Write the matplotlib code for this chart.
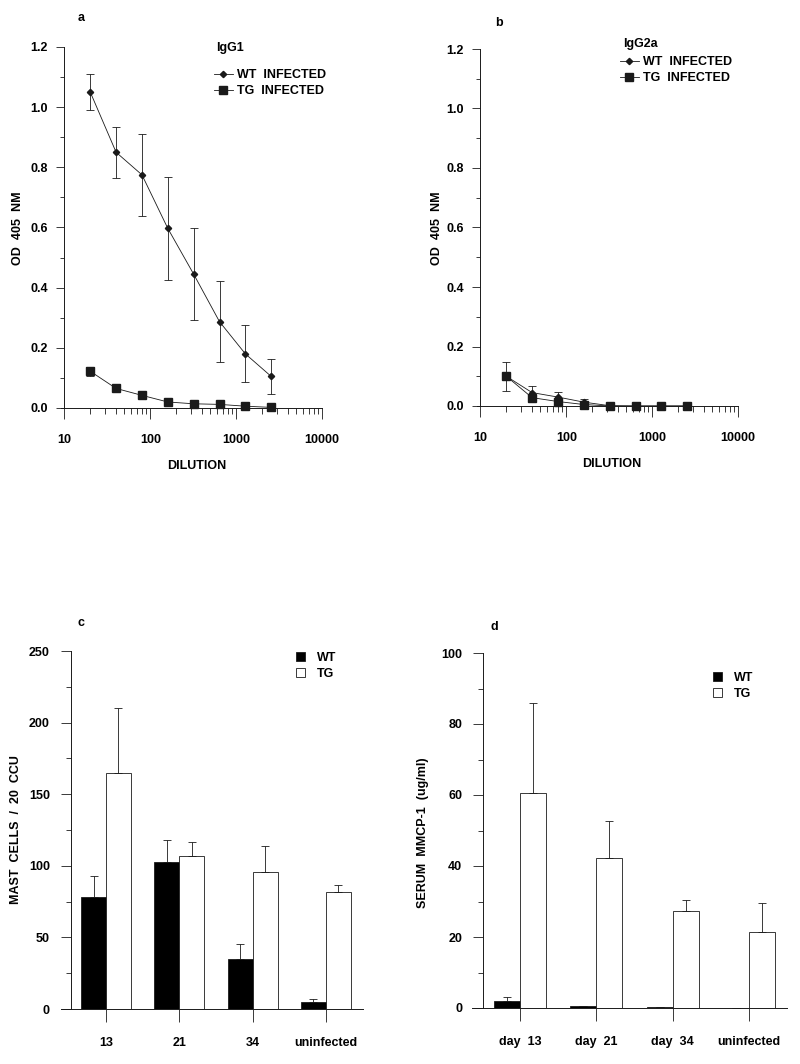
import numpy as np
import matplotlib.pyplot as plt
from matplotlib.lines import Line2D
from matplotlib.patches import Patch
from matplotlib.ticker import FixedLocator, FixedFormatter, MultipleLocator

plt.rcParams['font.family'] = ['Liberation Sans', 'DejaVu Sans']
plt.rcParams['font.weight'] = 'bold'

W, H = 800, 1064

# ---- data ----
dilution = [20, 40, 80, 160, 320, 640, 1280, 2560]

igg1_wt = [1.05, 0.85, 0.775, 0.597, 0.445, 0.287, 0.18, 0.105]
igg1_wt_err = [0.061, 0.085, 0.137, 0.17, 0.153, 0.135, 0.095, 0.058]
igg1_tg = [0.122, 0.065, 0.042, 0.02, 0.014, 0.012, 0.006, 0.002]
igg1_tg_err = [0.015, 0.006, 0.004, 0.003, 0.002, 0.002, 0.001, 0.001]

igg2a_wt = [0.100, 0.045, 0.030, 0.013, 0.001, 0.0, 0.0, 0.0]
igg2a_wt_err = [0.048, 0.023, 0.018, 0.009, 0.002, 0.0, 0.0, 0.0]
igg2a_tg = [0.100, 0.028, 0.015, 0.005, 0.0, 0.0, 0.0, 0.0]
igg2a_tg_err = [0.0, 0.0, 0.0, 0.0, 0.0, 0.0, 0.0, 0.0]

mast_labels = ['13', '21', '34', 'uninfected']
mast_wt = [78.5, 103, 35, 5]
mast_wt_err = [14.5, 15, 10.5, 2]
mast_tg = [164.5, 107, 95.5, 82]
mast_tg_err = [45.5, 9.5, 18, 4.5]

mmcp_labels = ['day  13', 'day  21', 'day  34', 'uninfected']
mmcp_wt = [2.0, 0.6, 0.2, 0.0]
mmcp_wt_err = [1.1, 0.0, 0.0, 0.0]
mmcp_tg = [60.6, 42.3, 27.2, 21.5]
mmcp_tg_err = [25.4, 10.5, 3.1, 8.2]

INK = '#1a1a1a'
FS = 9


def box(l, r, t, b):
    return [l / W, 1 - b / H, (r - l) / W, (b - t) / H]


def ftext(fig, x, y, s, **kw):
    fig.text(x / W, 1 - y / H, s, **kw)


def dilution_panel(fig, rect, wt, wt_err, tg, tg_err, title, tpos, lpos):
    ax = fig.add_axes(rect)
    ax.set_xscale('log')
    ax.set_xlim(10 ** 0.96, 1e4)
    ax.set_ylim(0, 1.2)
    for s in ['top', 'right']:
        ax.spines[s].set_visible(False)
    ax.spines['left'].set_position(('data', 10))
    ax.spines['left'].set_bounds(0, 1.2)
    for s in ['left', 'bottom']:
        ax.spines[s].set_linewidth(0.7)
        ax.spines[s].set_color(INK)
    ax.errorbar(dilution, wt, yerr=wt_err, color=INK, lw=0.6, marker='D',
                ms=3.2, elinewidth=0.6, capsize=3, capthick=0.6, clip_on=False)
    ax.errorbar(dilution, tg, yerr=tg_err, color=INK, lw=0.6, marker='s',
                ms=5.5, elinewidth=0.6, capsize=3, capthick=0.6, clip_on=False)
    ax.xaxis.set_major_locator(FixedLocator([10, 100, 1000, 10000]))
    ax.xaxis.set_major_formatter(FixedFormatter(['10', '100', '1000', '10000']))
    ax.yaxis.set_major_locator(MultipleLocator(0.2))
    ax.yaxis.set_minor_locator(MultipleLocator(0.1))
    ax.yaxis.set_major_formatter(plt.FuncFormatter(lambda v, p: f'{v:.1f}'))
    ax.tick_params(axis='x', which='major', length=8, width=0.6, pad=11,
                   labelsize=FS, color=INK)
    ax.tick_params(axis='x', which='minor', length=4.5, width=0.6, color=INK)
    ax.tick_params(axis='y', which='major', length=6, width=0.6, pad=6,
                   labelsize=FS, color=INK)
    ax.tick_params(axis='y', which='minor', length=3, width=0.6, color=INK)
    ftext(fig, tpos[0], tpos[1], title, fontsize=FS, va='center', ha='left')
    handles = [Line2D([], [], color=INK, lw=0.6, marker='D', ms=3.2),
               Line2D([], [], color=INK, lw=0.6, marker='s', ms=5.5)]
    ax.legend(handles, ['WT  INFECTED', 'TG  INFECTED'], loc='upper left',
              bbox_to_anchor=(lpos[0] / W, 1 - lpos[1] / H),
              bbox_transform=fig.transFigure, frameon=False, fontsize=FS,
              handlelength=1.5, handletextpad=0.35, labelspacing=0.33,
              borderpad=0, borderaxespad=0)
    return ax


def bar_panel(fig, rect, xlim, spine_x, ymax, ystep, ylabels, wt, wt_err, tg, tg_err,
              lpos):
    ax = fig.add_axes(rect)
    x = np.arange(len(ylabels))
    bw = 0.34
    ax.bar(x - bw / 2, wt, bw, color='black', edgecolor=INK, lw=0.6)
    ax.bar(x + bw / 2, tg, bw, color='white', edgecolor=INK, lw=0.6)
    lo = np.zeros(len(x))
    ax.errorbar(x - bw / 2, wt, yerr=[lo, wt_err], fmt='none', ecolor=INK,
                elinewidth=0.6, capsize=3, capthick=0.6)
    ax.errorbar(x + bw / 2, tg, yerr=[lo, tg_err], fmt='none', ecolor=INK,
                elinewidth=0.6, capsize=3, capthick=0.6)
    ax.set_xlim(*xlim)
    ax.set_ylim(0, ymax)
    for s in ['top', 'right']:
        ax.spines[s].set_visible(False)
    ax.spines['left'].set_position(('data', spine_x))
    for s in ['left', 'bottom']:
        ax.spines[s].set_linewidth(0.7)
        ax.spines[s].set_color(INK)
    ax.set_xticks(x)
    ax.set_xticklabels(ylabels)
    ax.yaxis.set_major_locator(MultipleLocator(ystep))
    ax.yaxis.set_minor_locator(MultipleLocator(ystep / 2))
    ax.tick_params(axis='x', length=9, width=0.6, pad=11, labelsize=FS, color=INK)
    ax.tick_params(axis='y', which='major', length=7, width=0.6, pad=8,
                   labelsize=FS, color=INK)
    ax.tick_params(axis='y', which='minor', length=3.5, width=0.6, color=INK)
    handles = [Patch(facecolor='black', edgecolor=INK, lw=0.6),
               Patch(facecolor='white', edgecolor=INK, lw=0.6)]
    ax.legend(handles, ['WT', 'TG'], loc='upper left',
              bbox_to_anchor=(lpos[0] / W, 1 - lpos[1] / H),
              bbox_transform=fig.transFigure, frameon=False, fontsize=FS,
              handlelength=0.7, handleheight=0.7, handletextpad=1.0,
              labelspacing=0.3, borderpad=0, borderaxespad=0)
    return ax


fig = plt.figure(figsize=(8, 10.64), dpi=100)

dilution_panel(fig, box(61, 322, 47, 408), igg1_wt, igg1_wt_err, igg1_tg, igg1_tg_err,
               'IgG1', (216, 48), (214, 69))
dilution_panel(fig, box(477, 738, 49, 406), igg2a_wt, igg2a_wt_err, igg2a_tg,
               igg2a_tg_err, 'IgG2a', (623, 44), (620, 56))

bar_panel(fig, box(61, 363, 651, 1009), (-0.614, 3.506), -0.48, 250, 50, mast_labels,
          mast_wt, mast_wt_err, mast_tg, mast_tg_err, (296, 652))
bar_panel(fig, box(472, 787, 653, 1008), (-0.63, 3.5), -0.485, 100, 20, mmcp_labels,
          mmcp_wt, mmcp_wt_err, mmcp_tg, mmcp_tg_err, (713, 672))

# panel letters
ftext(fig, 78, 18, 'a', fontsize=FS, va='center', ha='left')
ftext(fig, 495, 23, 'b', fontsize=FS, va='center', ha='left')
ftext(fig, 78, 623, 'c', fontsize=FS, va='center', ha='left')
ftext(fig, 490, 627, 'd', fontsize=FS, va='center', ha='left')

# axis titles
ftext(fig, 18, 228, 'OD  405  NM', fontsize=FS, rotation=90, va='center', ha='center')
ftext(fig, 437, 228, 'OD  405  NM', fontsize=FS, rotation=90, va='center', ha='center')
ftext(fig, 197, 466, 'DILUTION', fontsize=FS, va='center', ha='center')
ftext(fig, 612, 464, 'DILUTION', fontsize=FS, va='center', ha='center')
ftext(fig, 16, 830, 'MAST  CELLS  /  20  CCU', fontsize=FS, rotation=90,
      va='center', ha='center')
ftext(fig, 423, 833, 'SERUM  MMCP-1  (ug/ml)', fontsize=FS, rotation=90,
      va='center', ha='center')

fig.savefig('out.png', dpi=100)
